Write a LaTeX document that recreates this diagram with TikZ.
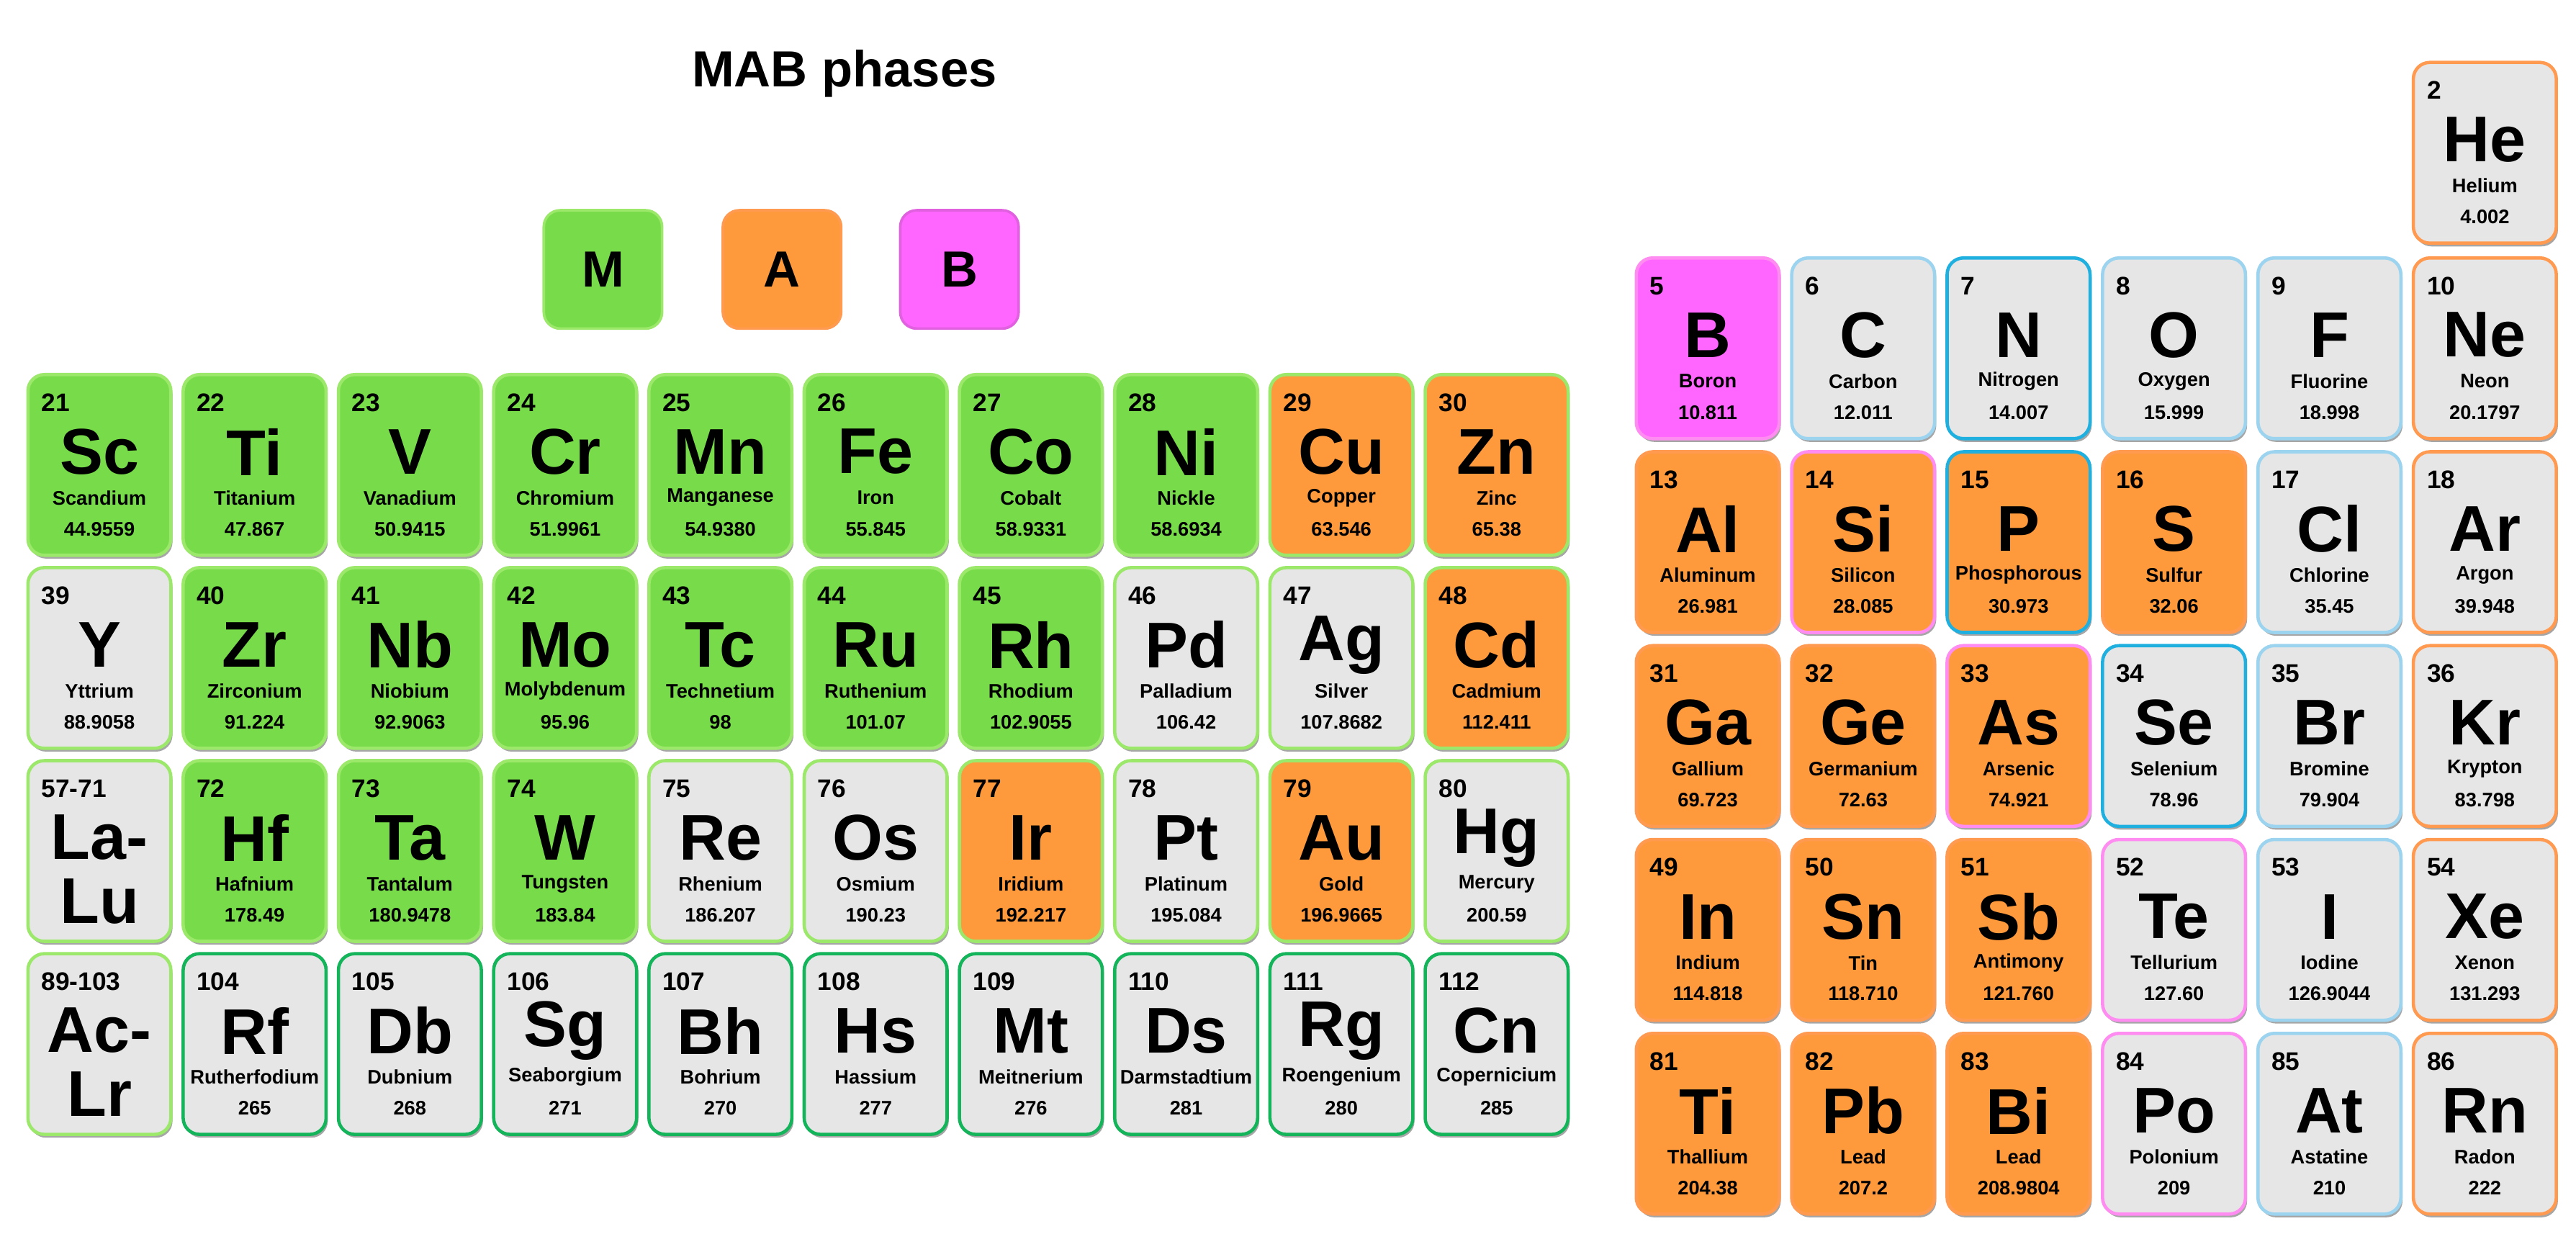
\documentclass[tikz,border=0pt]{standalone}
\usepackage{fontspec}
\setmainfont{Liberation Sans}
\definecolor{cg}{HTML}{78DC4A}
\definecolor{co}{HTML}{FF9A3C}
\definecolor{cp}{HTML}{FF66FF}
\definecolor{cw}{HTML}{E6E6E6}
\definecolor{bg}{HTML}{9BE86A}
\definecolor{bt}{HTML}{14B45A}
\definecolor{bo}{HTML}{FF9A50}
\definecolor{bp}{HTML}{FF8CF0}
\definecolor{bb}{HTML}{20B0E0}
\definecolor{bl}{HTML}{9CD4F0}
\definecolor{bm}{HTML}{E060E0}
\tikzset{
  tile/.style={rounded corners=2.5mm, line width=0.5mm, minimum width=21.75mm, minimum height=27.5mm, inner sep=0pt},
  numf/.style={font=\bfseries\fontsize{11}{11}\selectfont, anchor=west, inner sep=0pt},
  symf/.style={font=\bfseries\fontsize{28}{28}\selectfont, inner sep=0pt},
  lsymf/.style={font=\bfseries\fontsize{28}{28}\selectfont, inner sep=0pt, text height=7mm, text depth=0pt},
  namef/.style={font=\bfseries\fontsize{8.5}{9}\selectfont, inner sep=0pt},
  legf/.style={rounded corners=2.5mm, line width=0.4mm, minimum width=18mm, minimum height=18mm, font=\bfseries\fontsize{22}{22}\selectfont}
}
\newcommand\el[9]{% x y fill border num sym name wt
  \fill[black!35, rounded corners=2.5mm] (#1+1,#2+2) rectangle (#1+88,#2+112);
  \node[tile, fill=#3, draw=#4] (e#5) at (#1+43.5,#2+55) {};
  \node[numf] at (#1+8,#2+17) {#5};
  \node[symf] at (#1+43.5,#2+47) {#6};
  \node[namef] at (#1+43.5,#2+75) {#7};
  \node[namef] at (#1+43.5,#2+94) {#8};
}
\begin{document}
\begin{tikzpicture}[x=0.25mm,y=-0.25mm]
\useasboundingbox (0,0) rectangle (1568,751);
\node[font=\bfseries\fontsize{22}{22}\selectfont] (title) at (514,45) {MAB phases};
\node[legf, fill=cg, draw=bg] (lm) at (367,164) {M};
\node[legf, fill=co, draw=bo] (la) at (476,164) {A};
\node[legf, fill=cp, draw=bm] (lb) at (584,164) {B};
% left block
\foreach \n/\s/\nm/\w/\f/\b [count=\i from 0] in {
21/Sc/Scandium/44.9559/cg/bg, 22/Ti/Titanium/47.867/cg/bg, 23/V/Vanadium/50.9415/cg/bg,
24/Cr/Chromium/51.9961/cg/bg, 25/Mn/Manganese/54.9380/cg/bg, 26/Fe/Iron/55.845/cg/bg,
27/Co/Cobalt/58.9331/cg/bg, 28/Ni/Nickle/58.6934/cg/bg, 29/Cu/Copper/63.546/co/bg, 30/Zn/Zinc/65.38/co/bg}
  {\el{17+94.5*\i}{228}{\f}{\b}{\n}{\s}{\nm}{\w}{}}
\foreach \n/\s/\nm/\w/\f/\b [count=\i from 0] in {
39/Y/Yttrium/88.9058/cw/bg, 40/Zr/Zirconium/91.224/cg/bg, 41/Nb/Niobium/92.9063/cg/bg,
42/Mo/Molybdenum/95.96/cg/bg, 43/Tc/Technetium/98/cg/bg, 44/Ru/Ruthenium/101.07/cg/bg,
45/Rh/Rhodium/102.9055/cg/bg, 46/Pd/Palladium/106.42/cw/bg, 47/Ag/Silver/107.8682/cw/bg, 48/Cd/Cadmium/112.411/co/bg}
  {\el{17+94.5*\i}{345.5}{\f}{\b}{\n}{\s}{\nm}{\w}{}}
\foreach \n/\s/\nm/\w/\f/\b [count=\i from 1] in {
72/Hf/Hafnium/178.49/cg/bg, 73/Ta/Tantalum/180.9478/cg/bg, 74/W/Tungsten/183.84/cg/bg,
75/Re/Rhenium/186.207/cw/bg, 76/Os/Osmium/190.23/cw/bg, 77/Ir/Iridium/192.217/co/bg,
78/Pt/Platinum/195.084/cw/bg, 79/Au/Gold/196.9665/co/bg, 80/Hg/Mercury/200.59/cw/bg}
  {\el{17+94.5*\i}{463}{\f}{\b}{\n}{\s}{\nm}{\w}{}}
\foreach \n/\s/\nm/\w [count=\i from 1] in {
104/Rf/Rutherfodium/265, 105/Db/Dubnium/268, 106/Sg/Seaborgium/271, 107/Bh/Bohrium/270,
108/Hs/Hassium/277, 109/Mt/Meitnerium/276, 110/Ds/Darmstadtium/281, 111/Rg/Roengenium/280, 112/Cn/Copernicium/285}
  {\el{17+94.5*\i}{580.5}{cw}{bt}{\n}{\s}{\nm}{\w}{}}
% La-Lu and Ac-Lr
\foreach \n/\sa/\sb/\y in {57-71/La-/Lu/463, 89-103/Ac-/Lr/580.5}{
  \fill[black!35, rounded corners=2.5mm] (18,\y+2) rectangle (105,\y+112);
  \node[tile, fill=cw, draw=bg] (e\n) at (60.5,\y+55) {};
  \node[numf] at (25,\y+17) {\n};
  \node[lsymf, anchor=base] at (60.5,\y+60) {\sa};
  \node[lsymf, anchor=base] at (60.5,\y+99) {\sb};
}
% right block
\el{1469}{38}{cw}{bo}{2}{He}{Helium}{4.002}{}
\foreach \n/\s/\nm/\w/\f/\b [count=\i from 0] in {
5/B/Boron/10.811/cp/bp, 6/C/Carbon/12.011/cw/bl, 7/N/Nitrogen/14.007/cw/bb,
8/O/Oxygen/15.999/cw/bl, 9/F/Fluorine/18.998/cw/bl, 10/Ne/Neon/20.1797/cw/bo}
  {\el{996+94.6*\i}{157}{\f}{\b}{\n}{\s}{\nm}{\w}{}}
\foreach \n/\s/\nm/\w/\f/\b [count=\i from 0] in {
13/Al/Aluminum/26.981/co/bo, 14/Si/Silicon/28.085/co/bp, 15/P/Phosphorous/30.973/co/bb,
16/S/Sulfur/32.06/co/bo, 17/Cl/Chlorine/35.45/cw/bl, 18/Ar/Argon/39.948/cw/bo}
  {\el{996+94.6*\i}{275}{\f}{\b}{\n}{\s}{\nm}{\w}{}}
\foreach \n/\s/\nm/\w/\f/\b [count=\i from 0] in {
31/Ga/Gallium/69.723/co/bo, 32/Ge/Germanium/72.63/co/bo, 33/As/Arsenic/74.921/co/bp,
34/Se/Selenium/78.96/cw/bb, 35/Br/Bromine/79.904/cw/bl, 36/Kr/Krypton/83.798/cw/bo}
  {\el{996+94.6*\i}{393}{\f}{\b}{\n}{\s}{\nm}{\w}{}}
\foreach \n/\s/\nm/\w/\f/\b [count=\i from 0] in {
49/In/Indium/114.818/co/bo, 50/Sn/Tin/118.710/co/bo, 51/Sb/Antimony/121.760/co/bo,
52/Te/Tellurium/127.60/cw/bp, 53/I/Iodine/126.9044/cw/bl, 54/Xe/Xenon/131.293/cw/bo}
  {\el{996+94.6*\i}{511}{\f}{\b}{\n}{\s}{\nm}{\w}{}}
\foreach \n/\s/\nm/\w/\f/\b [count=\i from 0] in {
81/Ti/Thallium/204.38/co/bo, 82/Pb/Lead/207.2/co/bo, 83/Bi/Lead/208.9804/co/bo,
84/Po/Polonium/209/cw/bp, 85/At/Astatine/210/cw/bl, 86/Rn/Radon/222/cw/bo}
  {\el{996+94.6*\i}{629}{\f}{\b}{\n}{\s}{\nm}{\w}{}}
\end{tikzpicture}
\end{document}
